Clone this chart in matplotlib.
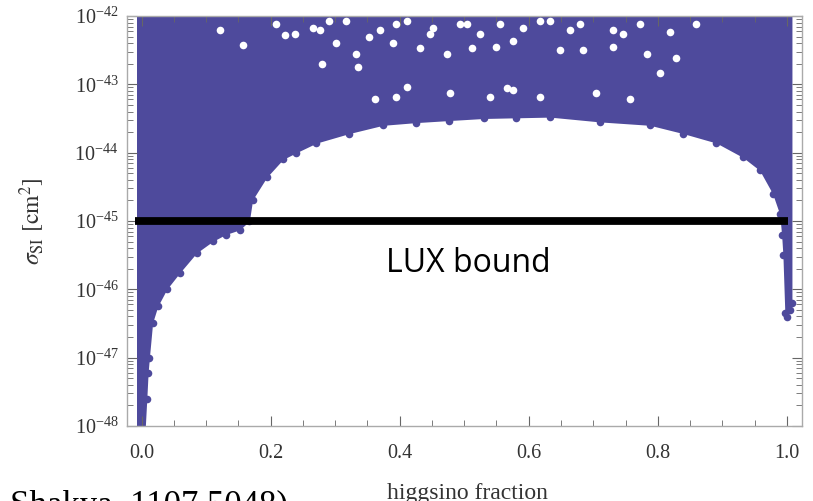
import numpy as np
import matplotlib.pyplot as plt
from matplotlib.ticker import LogLocator, MultipleLocator, NullFormatter, FixedLocator

plt.rcParams['font.family'] = ['Liberation Serif', 'DejaVu Serif']
plt.rcParams['mathtext.fontset'] = 'stix'

fill_color = '#4e4a9c'

# lower edge of the scanned region: higgsino fraction vs log10(sigma_SI / cm^2)
edge_x = [-0.008, 0.004, 0.008, 0.010, 0.012, 0.017, 0.025, 0.039, 0.059, 0.085,
          0.110, 0.130, 0.152, 0.167, 0.172, 0.194, 0.219, 0.240, 0.271, 0.322,
          0.374, 0.426, 0.477, 0.530, 0.581, 0.633, 0.710, 0.788, 0.839, 0.891,
          0.932, 0.958, 0.978, 0.989, 0.992, 0.994, 0.997, 1.001, 1.005, 1.008]
edge_logsig = [-48.3, -48.3, -47.6, -47.22, -47.0, -46.49, -46.25, -46.0, -45.76, -45.47,
               -45.3, -45.2, -45.13, -45.0, -44.69, -44.36, -44.1, -44.0, -43.86, -43.72,
               -43.6, -43.56, -43.53, -43.5, -43.49, -43.48, -43.55, -43.6, -43.72, -43.86,
               -44.07, -44.26, -44.6, -44.9, -45.2, -45.5, -46.35, -46.4, -46.3, -46.2]

# empty patches in the upper part of the scan
hole_x = [0.121, 0.157, 0.209, 0.222, 0.237, 0.265, 0.276, 0.302, 0.291, 0.317,
          0.333, 0.353, 0.369, 0.389, 0.395, 0.411, 0.431, 0.447, 0.451, 0.473,
          0.493, 0.361, 0.395, 0.411, 0.335, 0.279, 0.478,
          0.504, 0.524, 0.555, 0.550, 0.512, 0.575, 0.591, 0.617, 0.633, 0.648,
          0.664, 0.679, 0.684, 0.730, 0.746, 0.730, 0.772, 0.783, 0.819, 0.860,
          0.803, 0.566, 0.575, 0.540, 0.617, 0.705, 0.757, 0.829]
hole_logsig = [-42.21, -42.43, -42.11, -42.28, -42.26, -42.17, -42.21, -42.39, -42.07, -42.07,
               -42.55, -42.31, -42.21, -42.40, -42.11, -42.07, -42.47, -42.26, -42.17, -42.55,
               -42.11, -43.21, -43.19, -43.04, -42.75, -42.70, -43.13,
               -42.11, -42.26, -42.11, -42.46, -42.47, -42.36, -42.18, -42.07, -42.07, -42.50,
               -42.21, -42.11, -42.50, -42.21, -42.26, -42.46, -42.11, -42.55, -42.24, -42.11,
               -42.84, -43.06, -43.09, -43.19, -43.19, -43.12, -43.21, -42.62]

lux_x = [-0.011, 1.002]
lux_sigma = 1e-45

edge_sig = 10.0 ** np.array(edge_logsig)
hole_sig = 10.0 ** np.array(hole_logsig)

fig = plt.figure(figsize=(8.13, 5.01), dpi=100)
ax = fig.add_axes([0.156, 0.150, 0.830, 0.818])

ax.fill_between(edge_x, edge_sig, 1e-41, color=fill_color, lw=0, zorder=1)
ax.scatter(edge_x, edge_sig, s=30, color=fill_color, lw=0, zorder=1)
ax.scatter(hole_x, hole_sig, s=30, color='white', lw=0, zorder=2)

ax.plot(lux_x, [lux_sigma, lux_sigma], color='black', lw=5.6, solid_capstyle='butt', zorder=3)
ax.text(0.507, 1.8e-46, 'LUX bound', family=['Open Sans', 'DejaVu Sans'], fontsize=23,
        ha='center', va='baseline', zorder=4)

ax.set_yscale('log')
ax.set_xlim(-0.023, 1.023)
ax.set_ylim(1e-48, 1e-42)

ax.xaxis.set_major_locator(FixedLocator([0.0, 0.2, 0.4, 0.6, 0.8, 1.0]))
ax.xaxis.set_major_formatter(plt.FixedFormatter(['0.0', '0.2', '0.4', '0.6', '0.8', '1.0']))
ax.xaxis.set_minor_locator(MultipleLocator(0.05))
ax.yaxis.set_major_locator(LogLocator(base=10, numticks=10))
ax.yaxis.set_minor_locator(LogLocator(base=10, subs=np.arange(2, 10), numticks=20))
ax.yaxis.set_minor_formatter(NullFormatter())

ax.tick_params(which='both', direction='in', top=True, right=True, color='#666666',
               labelcolor='#333333', labelsize=14.5)
ax.tick_params(which='major', length=7, width=0.8)
ax.tick_params(which='minor', length=4, width=0.6)
ax.tick_params(axis='x', pad=13)
ax.tick_params(axis='y', pad=6)

for sp in ax.spines.values():
    sp.set_color('#aaaaaa')
    sp.set_linewidth(1.0)

ax.set_ylabel(r'$\sigma_{\rm SI}\ [{\rm cm}^2]$', fontsize=17, color='#333333')
ax.yaxis.set_label_coords(-0.118, 0.5)

fig.text(467 / 813, 1 - 493 / 501, 'higgsino fraction', fontsize=17, color='#333333',
         ha='center', va='center')
fig.text(0.012, 0.022, 'Shakya, 1107.5048)', fontsize=25, color='black', ha='left', va='top')

fig.savefig('out.png', dpi=100)
